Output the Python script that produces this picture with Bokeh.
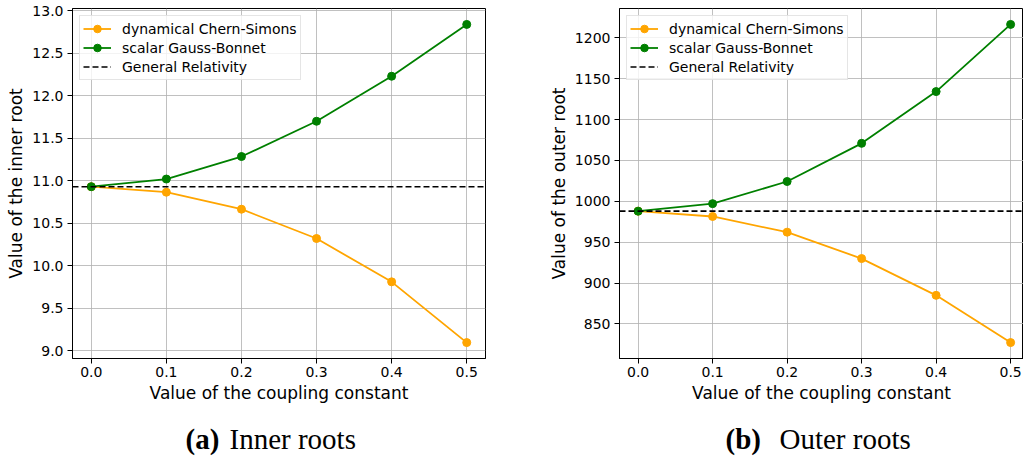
from bokeh.plotting import figure
from bokeh.models import Range1d, FixedTicker, PrintfTickFormatter, Span
from bokeh.layouts import column, row
from bokeh.embed import file_html
from bokeh.resources import INLINE
from bokeh.core.properties import value

# ---------------- data ----------------
coupling = [0.0, 0.1, 0.2, 0.3, 0.4, 0.5]

inner_dcs = [10.93, 10.865, 10.665, 10.32, 9.81, 9.095]
inner_sgb = [10.93, 11.02, 11.285, 11.70, 12.23, 12.84]
inner_gr = 10.93

outer_dcs = [988.0, 981.5, 962.3, 930.0, 885.0, 827.2]
outer_sgb = [988.0, 997.2, 1024.3, 1071.0, 1134.3, 1216.5]
outer_gr = 988.0

inner_yticks = [9.0, 9.5, 10.0, 10.5, 11.0, 11.5, 12.0, 12.5, 13.0]
outer_yticks = [850, 900, 950, 1000, 1050, 1100, 1150, 1200]

series_names = ["dynamical Chern-Simons", "scalar Gauss-Bonnet", "General Relativity"]
captions_bold = ["(a)", "(b)"]
captions_text = ["Inner roots", "Outer roots"]

ORANGE = "#FFA500"
GREEN = "#008000"
FONT = "DejaVu Sans"


def padded(vals, frac=0.05):
    lo, hi = min(vals), max(vals)
    s = hi - lo
    return lo - frac * s, hi + frac * s


def panel(dcs, sgb, gr, yticks, yfmt, ylabel, width, x_end, min_left, min_right):
    y0, y1 = padded(dcs + sgb)
    p = figure(width=width, height=405, output_backend="svg", toolbar_location=None,
               x_range=Range1d(-0.025, x_end), y_range=Range1d(y0, y1),
               min_border_left=min_left, min_border_right=min_right,
               min_border_top=8, min_border_bottom=45)
    p.background_fill_color = "white"
    p.border_fill_color = "white"
    p.outline_line_color = "black"
    p.outline_line_width = 1
    p.outline_line_alpha = 1

    for g in (p.xgrid, p.ygrid):
        g.grid_line_color = "#b0b0b0"
        g.grid_line_width = 1
        g.grid_line_alpha = 0.8

    p.xaxis.ticker = FixedTicker(ticks=coupling)
    p.yaxis.ticker = FixedTicker(ticks=yticks)
    p.xaxis.formatter = PrintfTickFormatter(format="%.1f")
    p.yaxis.formatter = PrintfTickFormatter(format=yfmt)
    p.xaxis.axis_label = "Value of the coupling constant"
    p.yaxis.axis_label = ylabel
    for ax in (p.xaxis, p.yaxis):
        ax.axis_label_text_font = FONT
        ax.axis_label_text_font_style = "normal"
        ax.axis_label_text_font_size = "17px"
        ax.axis_label_text_color = "black"
        ax.major_label_text_font = FONT
        ax.major_label_text_font_size = "14px"
        ax.major_label_text_color = "black"
        ax.major_tick_out = 5
        ax.major_tick_in = 0
        ax.minor_tick_out = 0
        ax.minor_tick_in = 0
        ax.axis_line_color = "black"
        ax.major_tick_line_color = "black"
        ax.major_label_standoff = 4
        ax.axis_label_standoff = 3
    p.xaxis.major_label_standoff = 3
    p.xaxis.axis_label_standoff = 3

    p.line(coupling, dcs, line_color=ORANGE, line_width=1.8, legend_label=series_names[0])
    p.scatter(coupling, dcs, marker="circle", size=8, fill_color=ORANGE, line_color=ORANGE,
              legend_label=series_names[0])
    p.line(coupling, sgb, line_color=GREEN, line_width=1.8, legend_label=series_names[1])
    p.scatter(coupling, sgb, marker="circle", size=8, fill_color=GREEN, line_color=GREEN,
              legend_label=series_names[1])

    span = Span(location=gr, dimension="width", line_color="black", line_width=1.6,
                line_dash="6 3")
    p.add_layout(span)
    # legend entry for the horizontal reference line (the Span draws the line itself)
    p.line([coupling[0], coupling[0]], [gr, gr], line_color="black", line_width=1.6,
           line_dash="6 3", legend_label=series_names[2])

    lg = p.legend[0]
    lg.location = "top_left"
    lg.label_text_font = FONT
    lg.label_text_font_size = "14px"
    lg.label_text_color = "black"
    lg.glyph_width = 28
    lg.glyph_height = 19
    lg.label_height = 19
    lg.label_standoff = 11
    lg.spacing = 0
    lg.padding = 3
    lg.margin = 7
    lg.border_line_color = "#cccccc"
    lg.border_line_width = 1
    lg.background_fill_color = "white"
    lg.background_fill_alpha = 0.8
    return p


p1 = panel(inner_dcs, inner_sgb, inner_gr, inner_yticks, "%.1f",
           "Value of the inner root", 545, 0.525, 72, 60)
p2 = panel(outer_dcs, outer_sgb, outer_gr, outer_yticks, "%d",
           "Value of the outer root", 478, 0.5173, 71, 0)

cap = figure(width=1023, height=54, output_backend="svg", toolbar_location=None,
             x_range=Range1d(0, 1023), y_range=Range1d(0, 54),
             x_axis_type=None, y_axis_type=None, min_border=0)
cap.grid.visible = False
cap.outline_line_color = None
cap.background_fill_color = "white"
cap.border_fill_color = "white"
cap.text(x=[185, 725], y=[21, 21], text=captions_bold, text_font=value("Liberation Serif"),
         text_font_size="29px", text_font_style="bold", text_color="black",
         text_align="left", text_baseline="alphabetic")
cap.text(x=[229, 779], y=[21, 21], text=captions_text, text_font=value("Liberation Serif"),
         text_font_size="29px", text_font_style="normal", text_color="black",
         text_align="left", text_baseline="alphabetic")

layout = column(row(p1, p2), cap)
open("out.html", "w").write(file_html(layout, INLINE))
